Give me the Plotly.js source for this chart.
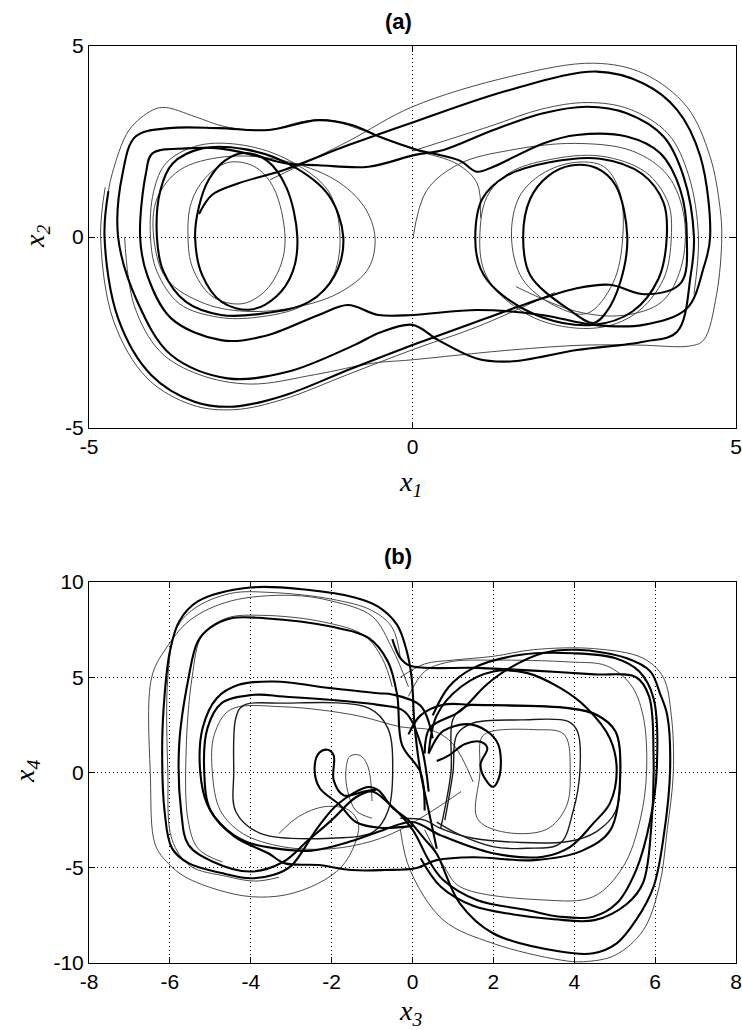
<!DOCTYPE html>
<html>
<head>
<meta charset="utf-8">
<script src="https://cdn.plot.ly/plotly-3.0.1.min.js"></script>
<style>
  html, body { margin: 0; padding: 0; background: #fff; }
  #plot { width: 742px; height: 1030px; }
</style>
</head>
<body>
<div id="plot"></div>
<script>
// ---- panel (a): x1 / x2 phase portrait ----
const aTicks = [-5, 0, 5];
const aTickText = ['-5', '0', '5'];

// long thick orbit: jump from left core to right outer ring and back round
const aOrbitMain = [
  [-3.3, 0.6], [-3.1, 1.1], [-2.7, 1.4], [-2.0, 1.75], [-1.0, 2.4], [0, 3.0], [1.5, 3.85],
  [2.85, 4.33], [3.57, 4.02], [4.09, 3.33], [4.45, 2.1], [4.6, 0], [4.5, -0.8], [4.24, -1.87],
  [3.57, -2.3], [2.8, -2.3], [2.0, -2.04], [1.0, -1.91], [0, -2.04], [-0.53, -2.04],
  [-1.0, -1.78], [-1.45, -2.04], [-2.3, -2.6], [-2.96, -2.7], [-3.73, -2.13], [-4.1, -1.0],
  [-4.21, 0], [-4.12, 1.67], [-4.02, 2.19], [-3.5, 2.32], [-2.99, 2.32], [-2.47, 2.15],
  [-1.97, 1.93], [-1.45, 1.88], [-0.68, 1.84], [0.04, 2.15], [0.48, 2.28], [1.25, 2.8],
  [2.02, 3.24], [2.7, 3.41], [3.31, 3.24], [3.88, 2.63], [4.19, 1.58], [4.35, 0], [4.3, -1.0],
  [4.09, -2.48], [3.57, -2.74], [2.54, -2.96], [1.51, -3.26], [0.99, -3.18], [0.4, -2.7],
  [0, -2.3], [-0.5, -2.5], [-0.9, -2.83], [-1.93, -3.53], [-2.86, -3.7], [-3.73, -3.09],
  [-4.25, -1.7], [-4.55, 0], [-4.48, 1.67], [-4.28, 2.63], [-3.76, 2.85], [-2.99, 2.85],
  [-2.23, 2.8], [-1.45, 3.06], [-0.94, 2.93], [-0.52, 2.63], [0.04, 2.3], [0.73, 2.0],
  [0.99, 1.71], [1.25, 1.84], [2.02, 2.45], [2.54, 2.67], [3.31, 2.63], [3.83, 2.19],
  [4.14, 1.23], [4.24, 0], [4.15, -1.2], [3.6, -1.5], [3.05, -1.25], [2.54, -1.34],
  [2.02, -1.6], [0.99, -2.22], [0, -2.83], [-0.94, -3.44], [-1.97, -4.14], [-2.75, -4.44],
  [-3.37, -4.31], [-4.04, -3.61], [-4.55, -2.13], [-4.76, 0], [-4.7, 1.2]
];
const aTopLeftThin = [
  [-4.7, 1.2], [-4.64, 1.67], [-4.38, 2.8], [-4.02, 3.32], [-3.82, 3.39], [-3.36, 3.15],
  [-2.9, 2.89], [-2.23, 2.8], [-1.71, 3.02], [-1.3, 3.06], [-0.78, 2.8], [0.04, 2.28],
  [0.7, 1.9], [1.0, 1.4], [1.05, 0.5]
];
const aRightOuterThin = [
  [-2.2, 1.5], [-1.0, 2.5], [0, 3.41], [1.51, 4.2], [2.8, 4.55], [3.57, 4.28], [4.24, 3.41],
  [4.6, 2.1], [4.75, 0.8], [4.78, 0], [4.7, -1.5], [4.5, -2.7], [4.3, -2.85], [3.5, -2.83],
  [2.65, -2.83], [1.51, -2.96], [-0.04, -3.22], [-0.6, -3.3], [-1.5, -3.6], [-2.5, -3.85],
  [-3.3, -3.6], [-3.9, -3.0], [-4.3, -1.8], [-4.45, 0]
];
const aBottomOuterThin = [
  [2.2, -1.45], [1.0, -2.35], [0, -2.95], [-1.0, -3.6], [-2.0, -4.25], [-2.75, -4.52],
  [-3.4, -4.4], [-4.1, -3.7], [-4.62, -2.2], [-4.82, 0], [-4.75, 1.3]
];
const aTopRightThin = [
  [0.0, 2.25], [1.2, 2.9], [2.0, 3.35], [2.7, 3.52], [3.35, 3.35], [3.95, 2.7], [4.27, 1.6],
  [4.42, 0], [4.35, -1.5]
];
const aLeftRing1 = [
  [-1.78, 0], [-1.85, -0.9], [-2.1, -1.55], [-2.5, -1.9], [-2.95, -1.7], [-3.25, -1.0],
  [-3.36, 0], [-3.3, 0.8], [-3.15, 1.5], [-2.9, 2.0], [-2.6, 2.2], [-2.25, 2.0], [-1.95, 1.3],
  [-1.78, 0]
];
const aLeftRing2 = [
  [-1.97, 0], [-2.05, -0.8], [-2.3, -1.45], [-2.65, -1.75], [-3.1, -1.55], [-3.4, -0.8],
  [-3.47, 0], [-3.42, 0.9], [-3.2, 1.55], [-2.85, 1.95], [-2.45, 1.85], [-2.15, 1.3], [-1.97, 0]
];
const aLeftRing3 = [
  [-1.07, 0], [-1.2, -1.0], [-1.6, -1.7], [-2.3, -2.0], [-2.96, -2.04], [-3.5, -1.7],
  [-3.85, -0.9], [-3.95, 0], [-3.9, 1.2], [-3.71, 1.92], [-3.25, 2.32], [-2.6, 2.3],
  [-1.9, 1.9], [-1.3, 1.1], [-1.07, 0]
];
const aLeftRing4 = [
  [-0.58, 0], [-0.68, -0.82], [-1.1, -1.43], [-1.7, -1.8], [-2.5, -1.95], [-3.2, -1.75],
  [-3.8, -1.1], [-4.0, 0], [-3.95, 1.0], [-3.6, 1.75], [-2.9, 2.1], [-2.0, 2.0], [-1.2, 1.5],
  [-0.75, 0.8], [-0.58, 0]
];
const aLeftRing5 = [
  [-1.12, 0], [-1.25, -1.1], [-1.7, -1.8], [-2.4, -2.1], [-3.0, -2.1], [-3.6, -1.75],
  [-3.95, -0.9], [-4.05, 0], [-4.0, 1.2], [-3.8, 1.95], [-3.3, 2.4], [-2.6, 2.4], [-1.9, 2.0],
  [-1.3, 1.2], [-1.12, 0]
];
const aRightRing1 = [
  [1.71, 0], [1.82, 1.0], [2.1, 1.6], [2.45, 1.87], [2.85, 1.8], [3.14, 1.35], [3.32, 0],
  [3.21, -1.19], [2.99, -1.98], [2.8, -2.25], [2.41, -1.89], [1.82, -1.0], [1.71, 0]
];
const aRightRing2 = [
  [1.53, 0], [1.65, 1.05], [2.0, 1.65], [2.5, 1.95], [2.95, 1.85], [3.2, 1.2], [3.25, 0],
  [3.1, -1.2], [2.7, -2.0], [2.2, -1.8], [1.7, -1.1], [1.53, 0]
];
const aRightRing3 = [
  [0.97, 0], [1.08, 1.0], [1.45, 1.6], [2.1, 1.95], [2.9, 2.05], [3.55, 1.65], [3.88, 0.9],
  [3.93, 0], [3.8, -1.1], [3.4, -1.95], [2.8, -2.3], [2.0, -2.1], [1.31, -1.41], [1.05, -0.82],
  [0.97, 0]
];
const aRightRing4 = [
  [0.01, 0], [0.22, 1.22], [0.73, 1.92], [1.5, 2.27], [2.5, 2.45], [3.4, 2.25], [3.95, 1.6],
  [4.2, 0.5], [4.15, -0.8], [3.85, -1.7], [3.26, -2.05], [2.54, -1.95], [1.6, -1.3]
];
const aRightRing5 = [
  [1.04, 0], [1.15, 1.05], [1.5, 1.68], [2.1, 2.02], [2.9, 2.12], [3.6, 1.7], [3.95, 0.9],
  [4.0, 0], [3.88, -1.1], [3.45, -2.0], [2.85, -2.38], [2.0, -2.2], [1.35, -1.5], [1.1, -0.85],
  [1.04, 0]
];

// ---- panel (b): x3 / x4 phase portrait ----
const bXTicks = [-8, -6, -4, -2, 0, 2, 4, 6, 8];
const bXTickText = ['-8', '-6', '-4', '-2', '0', '2', '4', '6', '8'];
const bYTicks = [-10, -5, 0, 5, 10];
const bYTickText = ['-10', '-5', '0', '5', '10'];

const bOuterEight = [
  [0.6, -4.0], [0.4, -2.0], [0.2, 0], [0.05, 2.5], [-0.02, 4.95], [-0.14, 6.35], [-0.38, 7.75],
  [-0.85, 8.71], [-1.43, 9.19], [-2.61, 9.59], [-4.01, 9.71], [-5.31, 8.98], [-5.77, 7.93],
  [-6.0, 6.35], [-6.13, 4.08], [-6.19, 1.45], [-6.13, -2.05], [-5.95, -3.97], [-5.54, -4.76],
  [-4.72, -5.28], [-4.01, -5.55], [-3.43, -5.37], [-3.0, -4.9], [-2.33, -2.85], [-1.83, -1.63],
  [-1.09, -0.76], [-0.84, -0.94], [-0.51, -1.81], [-0.1, -2.51], [0.3, -3.5], [0.59, -4.24],
  [1.17, -6.87], [1.99, -8.44], [3.65, -9.4], [4.47, -9.49], [5.05, -8.97], [5.53, -7.74],
  [5.96, -6.0], [6.21, -3.37], [6.37, 0.13], [6.3, 3.0], [6.13, 4.09], [5.88, 5.31], [5.3, 6.0],
  [4.06, 6.44], [3.23, 6.27], [2.41, 5.49], [1.83, 4.61], [1.17, 3.21], [0.43, 2.34], [0.3, 1.0]
];
const bOuterEightThin = [
  [-0.3, 6.0], [-0.5, 7.6], [-1.0, 8.5], [-2.0, 9.1], [-3.5, 9.45], [-4.5, 9.4], [-5.4, 8.6],
  [-5.85, 7.5], [-6.05, 5.0], [-6.05, 0], [-5.95, -3.5], [-5.5, -4.9], [-4.6, -5.45],
  [-3.9, -5.7], [-3.3, -5.5]
];
const bSecondLoop = [
  [0.3, -2.0], [0.2, 0], [-0.26, 1.45], [-0.38, 4.08], [-0.61, 5.83], [-1.08, 7.05],
  [-2.02, 7.66], [-3.66, 8.1], [-4.48, 8.1], [-5.0, 7.6], [-5.31, 6.88], [-5.54, 4.95],
  [-5.77, 1.45], [-5.72, -2.05], [-5.54, -3.8], [-4.95, -4.67], [-4.01, -5.2], [-3.2, -4.7],
  [-2.6, -3.6], [-2.0, -2.5], [-1.4, -1.3], [-1.0, -1.0], [-0.6, -1.6], [0.0, -3.0],
  [0.4, -4.6], [0.76, -5.64], [1.59, -6.69], [2.83, -7.22], [3.65, -7.57], [4.47, -7.57],
  [5.05, -6.87], [5.53, -5.12], [5.88, -2.49], [6.04, 0.13], [5.96, 3.9], [5.61, 5.3],
  [5.02, 6.0], [3.97, 6.26], [2.68, 6.18], [1.5, 5.48], [0.9, 4.5], [0.5, 3.0]
];
const bSecondLoopThin = [
  [-0.5, 4.5], [-0.75, 6.0], [-1.2, 7.2], [-2.2, 7.9], [-3.7, 8.25], [-4.6, 8.1], [-5.2, 7.2],
  [-5.45, 5.0], [-5.6, 1.0], [-5.55, -2.5], [-5.3, -4.0], [-4.7, -4.7]
];
const bOuterThin = [
  [-0.1, 4.5], [-0.5, 6.5], [-1.0, 8.2], [-2.0, 9.0], [-3.0, 9.3], [-4.5, 9.0], [-5.5, 8.0],
  [-6.1, 6.5], [-6.45, 5.0], [-6.48, -0.3], [-6.36, -3.8], [-6.04, -4.77], [-5.63, -5.47],
  [-4.8, -6.17], [-3.98, -6.52], [-3.15, -6.43], [-2.33, -5.82], [-1.75, -4.94], [-1.42, -3.72],
  [-1.34, -2.67], [-1.58, -1.97], [-2.16, -1.79], [-2.82, -2.32], [-3.3, -3.2]
];
const bMidLoop1 = [
  [0.5, 1.8], [0.2, 3.5], [-0.5, 4.1], [-0.85, 4.16], [-2.02, 4.43], [-3.43, 4.78], [-4.3, 4.6],
  [-4.84, 3.9], [-5.19, 2.33], [-5.25, 0.05], [-5.07, -1.7], [-4.72, -2.75], [-4.13, -3.62],
  [-3.43, -3.97], [-2.5, -4.1], [-1.5, -3.6], [-0.7, -3.0], [0, -2.6], [0.7, -3.3],
  [1.99, -4.24], [3.23, -4.42], [3.9, -3.9], [4.47, -2.67], [4.88, -1.62], [5.05, 0.13],
  [4.88, 1.8], [4.31, 3.39], [3.65, 4.44], [2.82, 5.23], [2.0, 5.3], [1.2, 4.5], [0.6, 3.0],
  [0.4, 1.0]
];
const bMidLoop2 = [
  [0.4, -1.0], [0.2, 1.5], [-0.2, 3.2], [-0.85, 3.55], [-3.19, 3.99], [-3.9, 4.08],
  [-4.72, 3.64], [-5.07, 2.33], [-5.15, 0], [-5.0, -1.97], [-4.4, -3.37], [-3.57, -4.24],
  [-3.15, -4.77], [-2.33, -4.86], [-1.5, -5.12], [-0.68, -5.12], [0.07, -5.03], [0.6, -4.6],
  [1.5, -4.45], [3.0, -4.6], [4.2, -4.1], [4.9, -3.0], [5.14, 0.05], [5.02, 2.15], [4.55, 3.03],
  [3.85, 3.38], [1.5, 3.55], [0.76, 3.56], [0.2, 3.0], [-0.1, 2.0]
];
const bInnerLeft = [
  [-0.49, 0.05], [-0.61, 2.33], [-1.08, 3.38], [-3.19, 3.64], [-4.2, 3.5], [-4.37, 2.85],
  [-4.42, 0.05], [-4.37, -2.05], [-3.78, -3.18], [-2.02, -3.45], [-0.96, -3.1], [-0.61, -2.05],
  [-0.49, 0.05]
];
const bSmallLeft = [
  [0.0, -2.8], [-0.8, -2.9], [-1.4, -2.6], [-1.8, -1.7], [-2.3, -0.8], [-2.42, 0.3],
  [-2.3, 1.05], [-2.1, 1.19], [-1.95, 0.9], [-1.95, -0.4], [-1.7, -1.2], [-1.2, -1.0],
  [-0.9, -0.9]
];
const bSmallLeftThin = [
  [-1.0, -1.5], [-1.1, 0.3], [-1.3, 0.9], [-1.55, 0.85], [-1.65, 0], [-1.6, -1.0],
  [-1.4, -2.0], [-1.0, -2.4]
];
const bRightSmall = [
  [0.4, 1.0], [0.6, 1.8], [0.76, 2.19], [1.34, 2.54], [1.83, 2.19], [2.12, 1.48], [2.16, -0.1],
  [2.0, -0.75], [1.85, -0.5], [1.68, 0.4], [1.85, 1.28], [1.7, 1.6], [1.3, 1.5], [0.9, 0.9],
  [0.6, 0.6]
];
const bRightInner = [
  [0.8, -2.5], [1.0, 0], [1.1, 2.0], [1.5, 2.6], [2.68, 2.76], [3.85, 2.68], [4.08, 2.15],
  [4.14, 0.05], [3.97, -2.05], [3.65, -3.72], [2.83, -3.98], [1.99, -3.89], [1.2, -3.3],
  [0.6, -2.6]
];
const bRightInnerThin = [
  [1.6, -2.4], [1.67, 0], [1.7, 1.8], [1.9, 2.13], [3.0, 2.25], [3.75, 2.0], [3.9, 0],
  [3.8, -1.8], [3.3, -3.0], [2.2, -3.1], [1.6, -2.4]
];
const bRightMid = [
  [0.7, -2.9], [0.95, 0], [1.0, 2.8], [1.3, 3.45], [2.5, 3.5], [3.85, 3.38], [4.55, 3.03],
  [5.02, 2.15], [5.14, 0.05], [5.02, -2.05], [4.55, -3.1], [3.85, -3.62], [1.5, -3.45],
  [0.68, -2.92], [0.3, -2.5], [-0.3, -2.4]
];
const bMidRightThin = [
  [0.3, -3.0], [0.8, -5.0], [1.17, -5.99], [3.23, -6.69], [4.47, -6.52], [5.21, -4.94],
  [5.63, -2.49], [5.79, 0.13], [5.7, 3.0], [5.4, 4.6], [4.8, 5.6], [3.9, 5.8], [2.0, 5.9],
  [0.9, 5.8], [0.3, 5.3], [-0.1, 4.0]
];
const bOuterRightThin = [
  [-0.3, -3.0], [-0.06, -5.12], [0.76, -7.74], [1.99, -8.97], [3.65, -9.84], [4.23, -9.93],
  [5.0, -9.6], [5.7, -8.3], [6.1, -6.0], [6.3, -3.0], [6.45, 0], [6.4, 3.0], [6.2, 5.0],
  [5.7, 6.0], [4.5, 6.5], [3.0, 6.45], [2.0, 6.1], [1.0, 5.9], [0.3, 5.7], [-0.3, 5.0]
];
const bBandTop = [
  [-0.5, 7.0], [-0.3, 6.0], [-0.06, 5.6], [1.59, 5.49], [3.0, 5.35], [4.5, 5.15], [5.53, 5.0],
  [5.85, 4.0], [5.96, 1.0], [5.9, -3.0], [5.7, -5.8], [5.3, -6.9], [4.5, -7.75], [3.5, -7.7],
  [2.5, -7.45], [1.5, -7.0], [0.7, -6.0], [0.2, -4.5]
];
const bWideThin = [
  [1.5, -0.5], [1.0, 1.5], [0.5, 2.2], [-0.3, 2.4], [-1.4, 3.0], [-3.2, 3.45], [-4.5, 3.3],
  [-4.9, 2.0], [-4.95, 0], [-4.75, -2.0], [-4.2, -3.2], [-3.2, -3.9], [-2.0, -4.0],
  [-1.0, -3.6], [-0.3, -3.0], [0.5, -2.0], [1.2, -1.0]
];

const W = 742, H = 1030;
const THICK = { color: '#000', width: 2.1 };
const MID = { color: '#1a1a1a', width: 1.4 };
const THIN = { color: '#4a4a4a', width: 1 };

function curve(points, style, axis) {
  return {
    type: 'scatter',
    mode: 'lines',
    x: points.map(p => p[0]),
    y: points.map(p => p[1]),
    xaxis: axis === 1 ? 'x' : 'x2',
    yaxis: axis === 1 ? 'y' : 'y2',
    line: { color: style.color, width: style.width, shape: 'spline', smoothing: 1 },
    hoverinfo: 'none',
    showlegend: false
  };
}

const data = [
  curve(aRightOuterThin, THIN, 1),
  curve(aTopLeftThin, THIN, 1),
  curve(aBottomOuterThin, THIN, 1),
  curve(aTopRightThin, THIN, 1),
  curve(aLeftRing2, THIN, 1),
  curve(aLeftRing4, THIN, 1),
  curve(aLeftRing5, THIN, 1),
  curve(aRightRing2, THIN, 1),
  curve(aRightRing4, THIN, 1),
  curve(aRightRing5, THIN, 1),
  curve(aOrbitMain, THICK, 1),
  curve(aLeftRing1, THICK, 1),
  curve(aLeftRing3, THICK, 1),
  curve(aRightRing1, THICK, 1),
  curve(aRightRing3, THICK, 1),

  curve(bOuterThin, THIN, 2),
  curve(bOuterEightThin, THIN, 2),
  curve(bSecondLoopThin, THIN, 2),
  curve(bSmallLeftThin, THIN, 2),
  curve(bRightInnerThin, THIN, 2),
  curve(bMidRightThin, THIN, 2),
  curve(bOuterRightThin, THIN, 2),
  curve(bWideThin, THIN, 2),
  curve(bInnerLeft, MID, 2),
  curve(bRightInner, MID, 2),
  curve(bRightMid, MID, 2),
  curve(bOuterEight, THICK, 2),
  curve(bSecondLoop, THICK, 2),
  curve(bMidLoop1, THICK, 2),
  curve(bMidLoop2, THICK, 2),
  curve(bSmallLeft, THICK, 2),
  curve(bRightSmall, THICK, 2),
  curve(bBandTop, THICK, 2)
];

function axisStyle(range, vals, text, domain, anchor) {
  return {
    domain, anchor, range, autorange: false,
    tickmode: 'array', tickvals: vals, ticktext: text,
    ticks: 'inside', ticklen: 6, tickwidth: 1, tickcolor: '#000',
    showline: true, linecolor: '#000', linewidth: 1, mirror: 'allticks',
    showgrid: true, gridcolor: '#000', gridwidth: 1, griddash: '1px,3px',
    zeroline: false,
    tickfont: { family: 'Liberation Sans, Arial, sans-serif', size: 21, color: '#000' }
  };
}

const xDom = [89 / W, 736 / W];
const aDom = [1 - 428 / H, 1 - 46 / H];
const bDom = [1 - 963 / H, 1 - 582 / H];

const px = v => v / W;
const py = v => 1 - v / H;

const titleFont = { family: 'Liberation Sans, Arial, sans-serif', size: 22, color: '#000' };
const labelFont = { family: 'Liberation Serif, Times New Roman, serif', size: 28, color: '#000' };

function note(text, x, y, font, angle) {
  return {
    text, x: px(x), y: py(y), xref: 'paper', yref: 'paper',
    xanchor: 'center', yanchor: 'middle', showarrow: false,
    font, textangle: angle || 0
  };
}

const layout = {
  width: W, height: H,
  paper_bgcolor: '#fff', plot_bgcolor: '#fff',
  margin: { l: 0, r: 0, t: 0, b: 0 },
  showlegend: false,
  xaxis: axisStyle([-5, 5], aTicks, aTickText, xDom, 'y'),
  yaxis: axisStyle([-5, 5], aTicks, aTickText, aDom, 'x'),
  xaxis2: axisStyle([-8, 8], bXTicks, bXTickText, xDom, 'y2'),
  yaxis2: axisStyle([-10, 10], bYTicks, bYTickText, bDom, 'x2'),
  annotations: [
    note('<b>(a)</b>', 398, 22, titleFont),
    note('<b>(b)</b>', 398, 556, titleFont),
    note('<i>x</i><sub><i>1</i></sub>', 410, 484, labelFont),
    note('<i>x</i><sub><i>3</i></sub>', 410, 1012, labelFont),
    note('<i>x</i><sub><i>2</i></sub>', 36, 237, labelFont, -90),
    note('<i>x</i><sub><i>4</i></sub>', 26, 772, labelFont, -90)
  ]
};

Plotly.newPlot('plot', data, layout, { displayModeBar: false, staticPlot: true });
</script>
</body>
</html>
